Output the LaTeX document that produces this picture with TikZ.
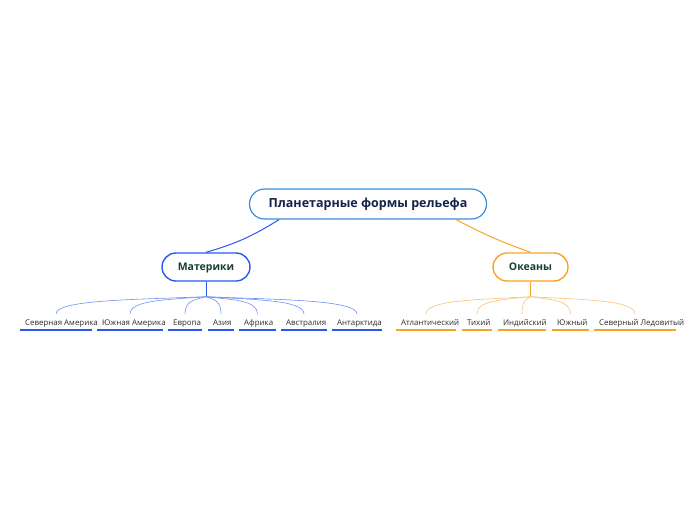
\documentclass[tikz,border=0pt]{standalone}
\usepackage{fontspec}
\setmainfont{Open Sans}
\usetikzlibrary{calc}
\definecolor{rootblue}{HTML}{3C8DDE}
\definecolor{navy}{HTML}{14234A}
\definecolor{contblue}{HTML}{2659F2}
\definecolor{thinblue}{HTML}{6F8FF5}
\definecolor{ocorange}{HTML}{F7A424}
\definecolor{thinorange}{HTML}{F9C273}
\definecolor{dkgreen}{HTML}{173F31}
\definecolor{leafgray}{HTML}{2B2B2B}

\begin{document}
\begin{tikzpicture}[x=1pt, y=-1pt,
  rootbox/.style={draw=rootblue, line width=1.2pt, rounded corners=15pt, fill=white,
    minimum width=237pt, minimum height=30pt, inner sep=0pt,
    font=\bfseries\fontsize{12.5}{14}\selectfont, text=navy},
  topicbox/.style={draw=#1, line width=1.4pt, rounded corners=14pt, fill=white,
    minimum height=28pt, inner sep=0pt, text height=7.5pt, text depth=1.5pt,
    font=\bfseries\fontsize{10.5}{12}\selectfont, text=dkgreen},
  leaf/.style={font=\fontsize{7.9}{9}\selectfont, text=leafgray, inner sep=0pt,
    minimum height=16pt, text height=6pt, text depth=2pt, anchor=south west},
  uline/.style={draw=#1, line width=1.6pt},
  twig/.style={draw=#1, line width=0.6pt},
]
\useasboundingbox (0,0) rectangle (696,520);

% ============================================================
% Central topic
% ============================================================
\node[rootbox] (root) at (368,204) {Планетарные формы рельефа};

% ============================================================
% Main branches
% ============================================================
\node[topicbox=contblue, minimum width=88pt] (mat) at (206,267) {Материки};
\node[topicbox=ocorange, minimum width=75pt] (okn) at (530.5,267) {Океаны};

\draw[contblue, line width=1pt] ($(root.south)+(-89,0)$) to[bend left=8] (mat.north);
\draw[ocorange, line width=1pt] ($(root.south)+(88,0)$) to[bend right=4] (okn.north);

% Hubs below the branches
\coordinate (mhub) at ($(mat.south)+(0,15)$);
\coordinate (ohub) at ($(okn.south)+(0,15)$);
\draw[contblue, line width=1pt] (mat.south) -- (mhub);
\draw[ocorange, line width=1pt] (okn.south) -- (ohub);

% ============================================================
% Leaves: name / underline left x / underline width / text
% ============================================================
\foreach \n/\x/\w/\t in {sam/20/72/Северная Америка, uam/97/66/Южная Америка,
    eur/168/34/Европа, asi/208/26/Азия, afr/239/37/Африка,
    aus/281/46/Австралия, ant/332/50/Антарктида} {
  \coordinate (\n-u) at (\x,330);
  \coordinate (\n-t) at ($(\n-u)+(\w/2,-16)$);
  \node[leaf] (\n) at ($(\n-u)+(5,1.5)$) {\t};
  \draw[uline=contblue] (\n-u) -- ++(\w,0);
  \draw[twig=thinblue] (mhub) .. controls ($($(mhub)!0.5!(\n-t |- mhub)$)+(0,3)$)
    and ($(\n-t)+(0,-14)$) .. (\n-t);
}

\foreach \n/\x/\w/\t in {atl/396/60/Атлантический, pac/462/30/Тихий,
    ind/498/48/Индийский, sou/552/37/Южный, arc/594/82/Северный Ледовитый} {
  \coordinate (\n-u) at (\x,330);
  \coordinate (\n-t) at ($(\n-u)+(\w/2,-16)$);
  \node[leaf] (\n) at ($(\n-u)+(5,1.5)$) {\t};
  \draw[uline=ocorange] (\n-u) -- ++(\w,0);
  \draw[twig=thinorange] (ohub) .. controls ($($(ohub)!0.5!(\n-t |- ohub)$)+(0,3)$)
    and ($(\n-t)+(0,-14)$) .. (\n-t);
}

\end{tikzpicture}
\end{document}
